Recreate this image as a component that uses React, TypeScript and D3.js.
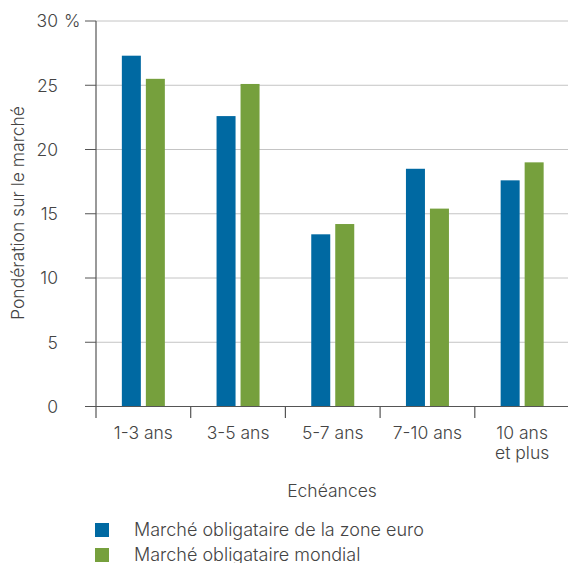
import React from "react";
import * as d3 from "d3";

const categories: string[][] = [["1-3 ans"], ["3-5 ans"], ["5-7 ans"], ["7-10 ans"], ["10 ans", "et plus"]];
const seriesNames = ["Marché obligataire de la zone euro", "Marché obligataire mondial"];
const euroZone = [27.3, 22.6, 13.4, 18.5, 17.6];
const world = [25.5, 25.1, 14.2, 15.4, 19.0];
const yTicks = [0, 5, 10, 15, 20, 25, 30];
const colors = ["#0069a2", "#76a03d"];

const W = 568;
const H = 563;
const FONT = "Inter, 'Liberation Sans', Arial, sans-serif";
const TEXT = "#444";
const FS = 17.5;
const LEGEND_FS = 18;
const FW = 300;

export default function App() {
  const x = d3
    .scaleBand<number>()
    .domain(categories.map((_, i) => i))
    .range([96, 569.5]);
  const y = d3.scaleLinear().domain([0, 30]).range([406.5, 21]);
  const barW = 19;
  const gap = 5;
  const series = [euroZone, world];

  return (
    <div style={{ position: "absolute", left: 0, top: 0 }}>
      <svg width={W} height={H} style={{ display: "block" }} fontFamily={FONT} fontWeight={FW}>
        {/* gridlines and y ticks */}
        {yTicks.map((t) => (
          <g key={t}>
            {t > 0 && (
              <line x1={96} x2={W} y1={y(t)} y2={y(t)} stroke="#c4c4c4" strokeWidth={1} />
            )}
            <line x1={85} x2={96} y1={y(t)} y2={y(t)} stroke="#555" strokeWidth={1} />
            <text x={58} y={y(t)} dy="0.36em" textAnchor="end" fontSize={FS} fill={TEXT}>
              {t}
            </text>
            {t === 30 && (
              <text x={64} y={y(t)} dy="0.36em" fontSize={FS} fill={TEXT}>
                %
              </text>
            )}
          </g>
        ))}

        {/* bars */}
        {categories.map((_, i) => {
          const cx = (x(i) as number) + x.bandwidth() / 2;
          return series.map((vals, s) => {
            const bx = s === 0 ? cx - gap / 2 - barW : cx + gap / 2;
            return (
              <rect
                key={`${i}-${s}`}
                x={bx}
                y={y(vals[i])}
                width={barW}
                height={y(0) - y(vals[i])}
                fill={colors[s]}
              />
            );
          });
        })}

        {/* axes */}
        <line x1={96} x2={96} y1={21} y2={418} stroke="#555" strokeWidth={1.2} />
        <line x1={85} x2={W} y1={y(0)} y2={y(0)} stroke="#555" strokeWidth={1.2} />
        {categories.map((_, i) =>
          i > 0 ? (
            <line
              key={i}
              x1={x(i) as number}
              x2={x(i) as number}
              y1={y(0)}
              y2={418}
              stroke="#555"
              strokeWidth={1.2}
            />
          ) : null
        )}

        {/* category labels */}
        {categories.map((lines, i) => {
          const cx = (x(i) as number) + x.bandwidth() / 2;
          return (
            <text key={i} x={cx} y={439} textAnchor="middle" fontSize={FS} fill={TEXT}>
              {lines.map((l, k) => (
                <tspan key={k} x={cx} dy={k === 0 ? 0 : 20}>
                  {l}
                </tspan>
              ))}
            </text>
          );
        })}

        {/* axis titles */}
        <text
          transform="translate(24,213) rotate(-90)"
          textAnchor="middle"
          fontSize={FS}
          fill={TEXT}
        >
          Pondération sur le marché
        </text>
        <text x={332} y={497} textAnchor="middle" fontSize={FS} fill={TEXT}>
          Echéances
        </text>

        {/* legend */}
        {seriesNames.map((name, s) => (
          <g key={name} transform={`translate(95,${523 + s * 25})`}>
            <rect width={14} height={14} fill={colors[s]} />
            <text x={39} y={13} fontSize={LEGEND_FS} fill={TEXT}>
              {name}
            </text>
          </g>
        ))}
      </svg>
    </div>
  );
}
